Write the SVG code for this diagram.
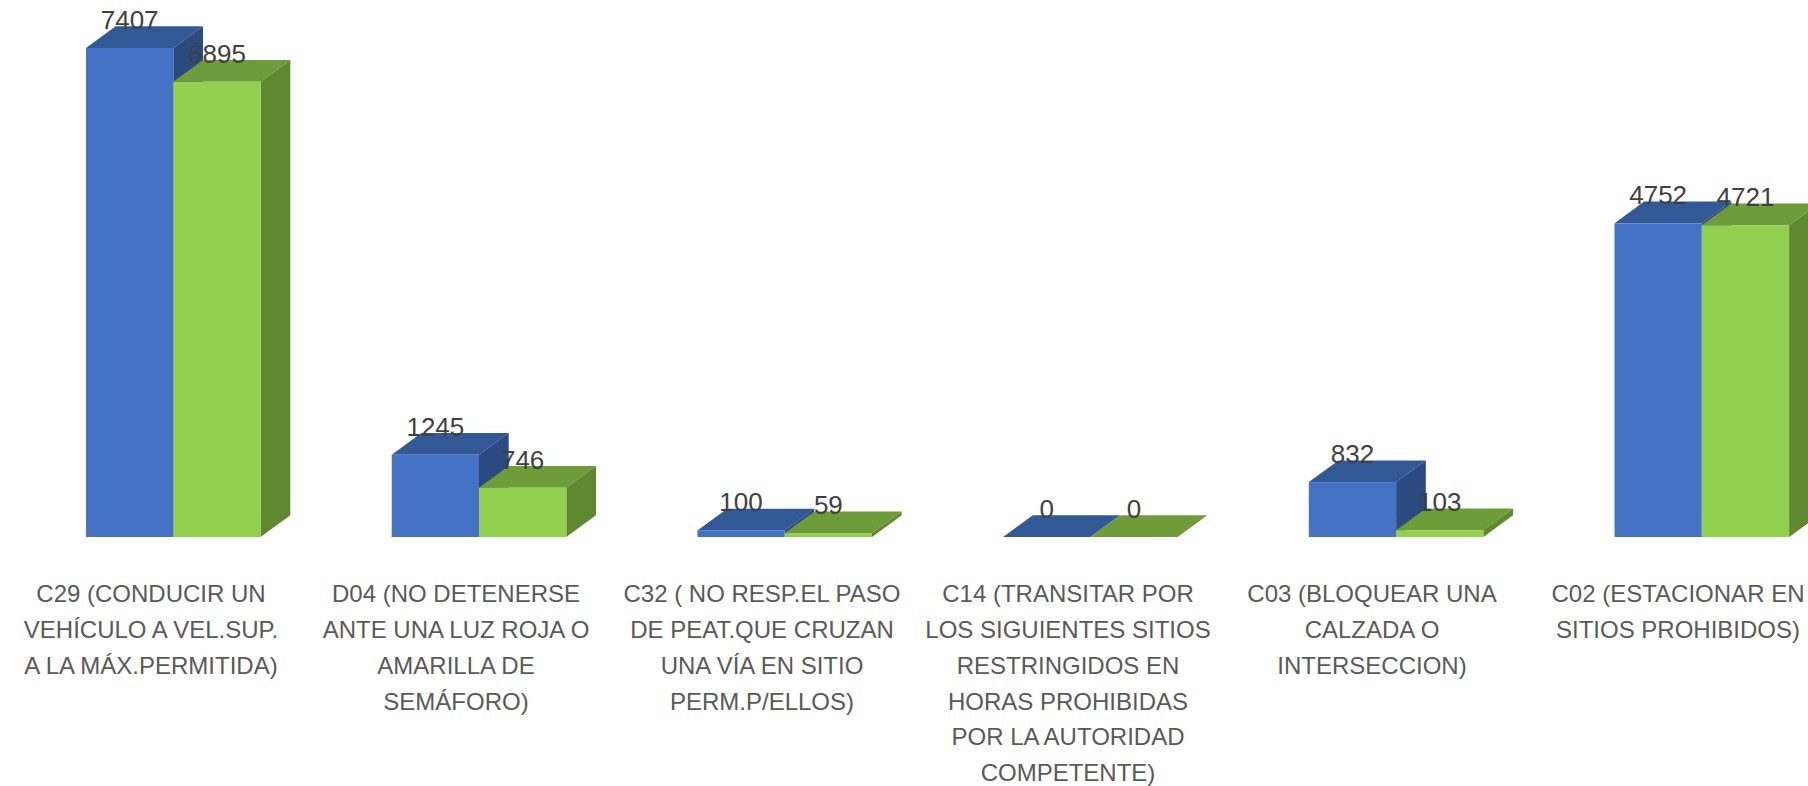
<svg xmlns="http://www.w3.org/2000/svg" width="1808" height="786" viewBox="0 0 1808 786">
<style>
.bf{fill:#4472C4}.bt{fill:#335896}.bs{fill:#2B4A80}
.gf{fill:#92D050}.gt{fill:#6F9C3B}.gs{fill:#5F8830}
.v{font-family:"Liberation Sans",Arial,sans-serif;font-size:26px;fill:#404040;text-anchor:middle}
.c{font-family:"Liberation Sans",Arial,sans-serif;font-size:24px;fill:#595959;text-anchor:middle}
</style>
<rect width="1808" height="786" fill="#ffffff"/>
<g id="bars">
<g id="C29" transform="translate(86,0)">
<polygon class="bt" points="0,48 87.3,48 117,26.3 29.7,26.3"/>
<polygon class="bs" points="87.3,48 117,26.3 117,515.3 87.3,537"/>
<rect class="bf" x="0" y="48" width="87.3" height="489"/>
<polygon class="gt" points="87.3,81.8 174.6,81.8 204.3,60.1 117,60.1"/>
<polygon class="gs" points="174.6,81.8 204.3,60.1 204.3,515.3 174.6,537"/>
<rect class="gf" x="87.3" y="81.8" width="87.3" height="455.2"/>
<text class="v" x="43.65" y="29">7407</text>
<text class="v" x="130.95" y="62.8">6895</text>
</g>
<g id="D04" transform="translate(391.7,0)">
<polygon class="bt" points="0,454.8 87.3,454.8 117,433.1 29.7,433.1"/>
<polygon class="bs" points="87.3,454.8 117,433.1 117,515.3 87.3,537"/>
<rect class="bf" x="0" y="454.8" width="87.3" height="82.2"/>
<polygon class="gt" points="87.3,487.7 174.6,487.7 204.3,466 117,466"/>
<polygon class="gs" points="174.6,487.7 204.3,466 204.3,515.3 174.6,537"/>
<rect class="gf" x="87.3" y="487.7" width="87.3" height="49.3"/>
<text class="v" x="43.65" y="435.8">1245</text>
<text class="v" x="130.95" y="468.7">746</text>
</g>
<g id="C32" transform="translate(697.4,0)">
<polygon class="bt" points="0,530.4 87.3,530.4 117,508.7 29.7,508.7"/>
<polygon class="bs" points="87.3,530.4 117,508.7 117,515.3 87.3,537"/>
<rect class="bf" x="0" y="530.4" width="87.3" height="6.6"/>
<polygon class="gt" points="87.3,533.1 174.6,533.1 204.3,511.4 117,511.4"/>
<polygon class="gs" points="174.6,533.1 204.3,511.4 204.3,515.3 174.6,537"/>
<rect class="gf" x="87.3" y="533.1" width="87.3" height="3.9"/>
<text class="v" x="43.65" y="511.4">100</text>
<text class="v" x="130.95" y="514.1">59</text>
</g>
<g id="C14" transform="translate(1003.1,0)">
<polygon class="bt" points="0,537 87.3,537 117,515.3 29.7,515.3"/>
<polygon class="gt" points="87.3,537 174.6,537 204.3,515.3 117,515.3"/>
<text class="v" x="43.65" y="518">0</text>
<text class="v" x="130.95" y="518">0</text>
</g>
<g id="C03" transform="translate(1308.8,0)">
<polygon class="bt" points="0,482.1 87.3,482.1 117,460.4 29.7,460.4"/>
<polygon class="bs" points="87.3,482.1 117,460.4 117,515.3 87.3,537"/>
<rect class="bf" x="0" y="482.1" width="87.3" height="54.9"/>
<polygon class="gt" points="87.3,530.2 174.6,530.2 204.3,508.5 117,508.5"/>
<polygon class="gs" points="174.6,530.2 204.3,508.5 204.3,515.3 174.6,537"/>
<rect class="gf" x="87.3" y="530.2" width="87.3" height="6.8"/>
<text class="v" x="43.65" y="463.1">832</text>
<text class="v" x="130.95" y="511.2">103</text>
</g>
<g id="C02" transform="translate(1614.5,0)">
<polygon class="bt" points="0,223.3 87.3,223.3 117,201.6 29.7,201.6"/>
<polygon class="bs" points="87.3,223.3 117,201.6 117,515.3 87.3,537"/>
<rect class="bf" x="0" y="223.3" width="87.3" height="313.7"/>
<polygon class="gt" points="87.3,225.3 174.6,225.3 204.3,203.6 117,203.6"/>
<polygon class="gs" points="174.6,225.3 204.3,203.6 204.3,515.3 174.6,537"/>
<rect class="gf" x="87.3" y="225.3" width="87.3" height="311.7"/>
<text class="v" x="43.65" y="204.3">4752</text>
<text class="v" x="130.95" y="206.3">4721</text>
</g>
</g>
<g id="categories">
<text class="c" x="151" y="602"><tspan x="151">C29 (CONDUCIR UN</tspan><tspan x="151" y="638">VEHÍCULO A VEL.SUP.</tspan><tspan x="151" y="674">A LA MÁX.PERMITIDA)</tspan></text>
<text class="c" x="456" y="602"><tspan x="456">D04 (NO DETENERSE</tspan><tspan x="456" y="638">ANTE UNA LUZ ROJA O</tspan><tspan x="456" y="674">AMARILLA DE</tspan><tspan x="456" y="709.5">SEMÁFORO)</tspan></text>
<text class="c" x="762" y="602"><tspan x="762">C32 ( NO RESP.EL PASO</tspan><tspan x="762" y="638">DE PEAT.QUE CRUZAN</tspan><tspan x="762" y="674">UNA VÍA EN SITIO</tspan><tspan x="762" y="709.5">PERM.P/ELLOS)</tspan></text>
<text class="c" x="1068" y="602"><tspan x="1068">C14 (TRANSITAR POR</tspan><tspan x="1068" y="638">LOS SIGUIENTES SITIOS</tspan><tspan x="1068" y="674">RESTRINGIDOS EN</tspan><tspan x="1068" y="709.5">HORAS PROHIBIDAS</tspan><tspan x="1068" y="745">POR LA AUTORIDAD</tspan><tspan x="1068" y="780.5">COMPETENTE)</tspan></text>
<text class="c" x="1372" y="602"><tspan x="1372">C03 (BLOQUEAR UNA</tspan><tspan x="1372" y="638">CALZADA O</tspan><tspan x="1372" y="674">INTERSECCION)</tspan></text>
<text class="c" x="1678" y="602"><tspan x="1678">C02 (ESTACIONAR EN</tspan><tspan x="1678" y="638">SITIOS PROHIBIDOS)</tspan></text>
</g>
</svg>
